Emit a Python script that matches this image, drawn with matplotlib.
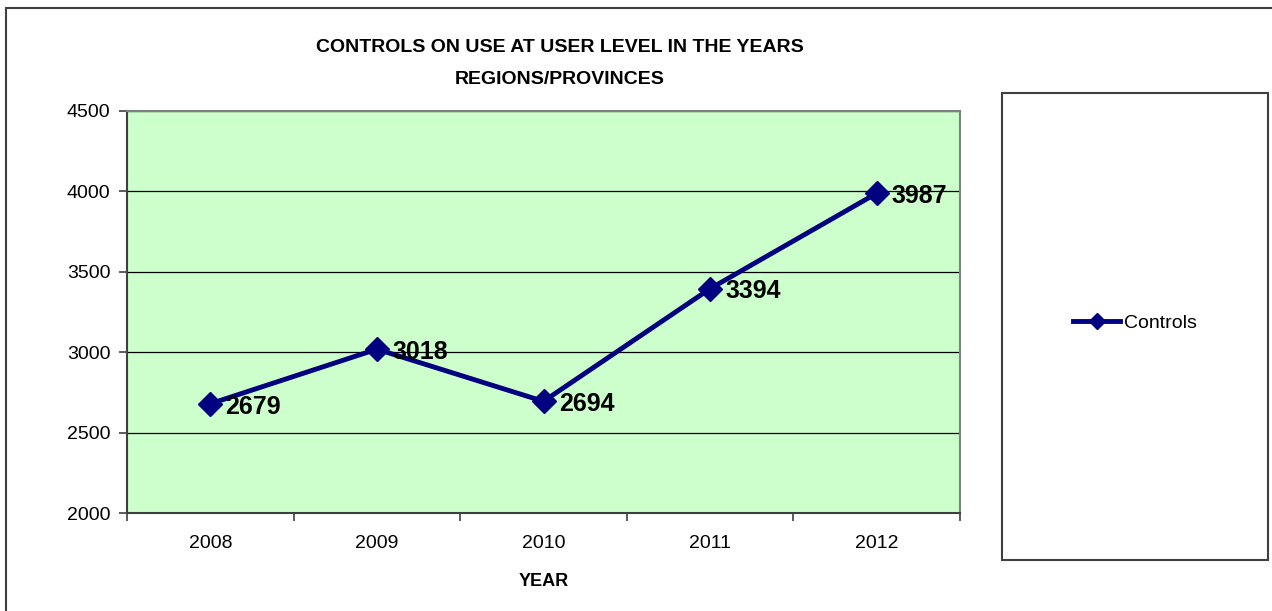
import matplotlib
matplotlib.use("Agg")
import matplotlib.pyplot as plt
from matplotlib.patches import Rectangle
from matplotlib import font_manager

plt.rcParams["font.family"] = ["Liberation Sans", "DejaVu Sans"]

years = ["2008", "2009", "2010", "2011", "2012"]
controls = [2679, 3018, 2694, 3394, 3987]

# narrow face for the title if present
names = {f.name for f in font_manager.fontManager.ttflist}
if "Liberation Sans Narrow" in names:
    title_family, title_size = ["Liberation Sans Narrow"], 17.5
else:
    title_family, title_size = ["Liberation Sans"], 14

W, H = 1272, 611
fig = plt.figure(figsize=(W / 100, H / 100), dpi=100)

# outer chart border (runs off right/bottom edge like the original)
fig.patches.append(Rectangle((6 / W, -0.1), 1.2, 1 - 8 / H + 0.1, transform=fig.transFigure,
                             fill=False, edgecolor="#404040", linewidth=1.5))

ax = fig.add_axes([127 / W, 1 - 513 / H, (960 - 127) / W, (513 - 110.7) / H])
ax.set_facecolor("#CCFFCC")

x = list(range(len(years)))
ax.plot(x, controls, color="#000080", linewidth=3.5, marker="D", markersize=12,
        label="Controls", zorder=5)
for xi, v in zip(x, controls):
    ax.annotate(str(v), (xi, v), xytext=(11, -2), textcoords="offset points",
                ha="left", va="center", fontsize=18, fontweight="bold", zorder=6)

ax.set_xlim(-0.5, len(years) - 0.5)
ax.set_ylim(2000, 4500)
ax.set_yticks(range(2000, 4501, 500))
ax.yaxis.grid(True, color="black", linewidth=0.9)
ax.set_axisbelow(True)

# ticks between categories, labels at centres
ax.set_xticks([i - 0.5 for i in range(len(years) + 1)])
ax.set_xticklabels([])
ax.set_xticks(x, minor=True)
ax.set_xticklabels(years, minor=True)
ax.tick_params(axis="x", which="major", length=6, direction="out", color="#404040", width=1.2)
ax.tick_params(axis="x", which="minor", length=0, pad=16, labelsize=14)
ax.tick_params(axis="y", length=6, direction="out", color="#404040", width=1.2, labelsize=14, pad=6)

for side in ["left", "bottom"]:
    ax.spines[side].set_color("#404040")
    ax.spines[side].set_linewidth(1.5)
for side in ["top", "right"]:
    ax.spines[side].set_color("#808080")
    ax.spines[side].set_linewidth(1.5)

ax.set_xlabel("YEAR", fontsize=13, fontweight="bold", labelpad=15)

fig.text(560 / W, 1 - 47 / H, "CONTROLS ON USE AT USER LEVEL IN THE YEARS",
         ha="center", va="center", fontsize=title_size, fontweight="bold", family=title_family)
fig.text(560 / W, 1 - 80 / H, "REGIONS/PROVINCES",
         ha="center", va="center", fontsize=title_size, fontweight="bold", family=title_family)

# legend box
lx0, ly0, lx1, ly1 = 1002, 93, 1268, 560
fig.patches.append(Rectangle((lx0 / W, 1 - ly1 / H), (lx1 - lx0) / W, (ly1 - ly0) / H,
                             transform=fig.transFigure, facecolor="white",
                             edgecolor="#404040", linewidth=1.5))
leg = fig.legend(loc="center", bbox_to_anchor=((lx0 + lx1) / 2 / W, 1 - 323 / H),
                 frameon=False, fontsize=14, handlelength=2.4, handletextpad=0.2,
                 markerscale=0.7)

fig.savefig("out.png", dpi=100)
